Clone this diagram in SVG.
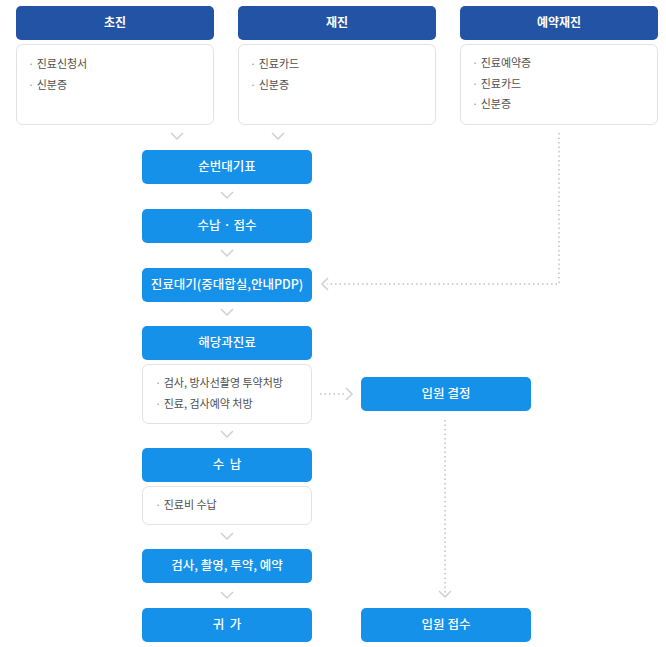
<svg xmlns="http://www.w3.org/2000/svg" width="666" height="647" viewBox="0 0 666 647">
<style>
.hd{fill:#2353a4}
.bx{fill:#1591e9}
.ct{fill:#fff;stroke:#e2e2e2;stroke-width:1}
.ht{font-family:"Noto Sans CJK KR","Noto Sans",sans-serif;font-size:12px;font-weight:bold;fill:#fff;text-anchor:middle}
.mt{font-weight:500;font-size:12.5px}
.tt{font-family:"Noto Sans CJK KR","Noto Sans",sans-serif;font-size:11px;fill:#505050}
.bl{fill:#999}
.ch{fill:none;stroke:#cfcfcf;stroke-width:1.5}
.dl{fill:none;stroke:#d0d0d0;stroke-width:2;stroke-dasharray:1.5 3}
</style>
<rect width="666" height="647" fill="#fff"/>
<g id="n-chojin">
<rect class="hd" x="16" y="6" width="198" height="34" rx="5"/>
<text class="ht" x="115" y="27">초진</text>
<rect class="ct" x="16.5" y="44.5" width="197" height="80" rx="6"/>
<text class="tt" x="28" y="68"><tspan class="bl">·</tspan> 진료신청서</text>
<text class="tt" x="28" y="89"><tspan class="bl">·</tspan> 신분증</text>
</g>
<g id="n-jaejin">
<rect class="hd" x="238" y="6" width="198" height="34" rx="5"/>
<text class="ht" x="337" y="27">재진</text>
<rect class="ct" x="238.5" y="44.5" width="197" height="80" rx="6"/>
<text class="tt" x="250" y="68"><tspan class="bl">·</tspan> 진료카드</text>
<text class="tt" x="250" y="89"><tspan class="bl">·</tspan> 신분증</text>
</g>
<g id="n-yeyak">
<rect class="hd" x="460" y="6" width="198" height="34" rx="5"/>
<text class="ht" x="559" y="27">예약재진</text>
<rect class="ct" x="460.5" y="44.5" width="197" height="80" rx="6"/>
<text class="tt" x="472" y="67"><tspan class="bl">·</tspan> 진료예약증</text>
<text class="tt" x="472" y="88"><tspan class="bl">·</tspan> 진료카드</text>
<text class="tt" x="472" y="108"><tspan class="bl">·</tspan> 신분증</text>
</g>
<g id="n-sunbeon">
<rect class="bx" x="142" y="150" width="170" height="34" rx="5"/>
<text class="ht mt" x="227" y="171">순번대기표</text>
</g>
<g id="n-sunap-jeopsu">
<rect class="bx" x="142" y="209" width="170" height="34" rx="5"/>
<text class="ht mt" x="227" y="230">수납 · 접수</text>
</g>
<g id="n-daegi">
<rect class="bx" x="142" y="268" width="170" height="34" rx="5"/>
<text class="ht mt" x="227" y="289">진료대기(중대합실,안내PDP)</text>
</g>
<g id="n-haedang">
<rect class="bx" x="142" y="326" width="170" height="34" rx="5"/>
<text class="ht mt" x="227" y="347">해당과진료</text>
<rect class="ct" x="142.5" y="364.5" width="169" height="59" rx="6"/>
<text class="tt" x="155" y="387"><tspan class="bl">·</tspan> 검사, 방사선촬영 투약처방</text>
<text class="tt" x="155" y="408"><tspan class="bl">·</tspan> 진료, 검사예약 처방</text>
</g>
<g id="n-sunap">
<rect class="bx" x="142" y="448" width="170" height="34" rx="5"/>
<text class="ht mt" x="227" y="469" xml:space="preserve">수  납</text>
<rect class="ct" x="142.5" y="486.5" width="169" height="38" rx="6"/>
<text class="tt" x="155" y="509"><tspan class="bl">·</tspan> 진료비 수납</text>
</g>
<g id="n-geomsa">
<rect class="bx" x="142" y="549" width="170" height="34" rx="5"/>
<text class="ht mt" x="227" y="570">검사, 촬영, 투약, 예약</text>
</g>
<g id="n-gwiga">
<rect class="bx" x="142" y="608" width="170" height="34" rx="5"/>
<text class="ht mt" x="227" y="629" xml:space="preserve">귀  가</text>
</g>
<g id="n-ipwon-gyeoljeong">
<rect class="bx" x="361" y="377" width="170" height="34" rx="5"/>
<text class="ht mt" x="446" y="398">입원 결정</text>
</g>
<g id="n-ipwon-jeopsu">
<rect class="bx" x="361" y="608" width="170" height="34" rx="5"/>
<text class="ht mt" x="446" y="629">입원 접수</text>
</g>
<g id="connectors">
<polyline class="ch" points="171,133 177,139 183,133"/>
<polyline class="ch" points="272,133 278,139 284,133"/>
<polyline class="ch" points="221,192 227,198 233,192"/>
<polyline class="ch" points="221,250 227,256 233,250"/>
<polyline class="ch" points="221,309 227,315 233,309"/>
<polyline class="ch" points="221,431 227,437 233,431"/>
<polyline class="ch" points="221,533 227,539 233,533"/>
<polyline class="ch" points="221,592 227,598 233,592"/>
<path class="dl" d="M559,133 V284 H327"/>
<polyline class="ch" points="328,278 322,284 328,290"/>
<path class="dl" d="M320,394 H346"/>
<polyline class="ch" points="346,388 352,394 346,400"/>
<path class="dl" d="M445,420 V596"/>
<polyline class="ch" points="439,591 445,597 451,591"/>
</g>
</svg>
